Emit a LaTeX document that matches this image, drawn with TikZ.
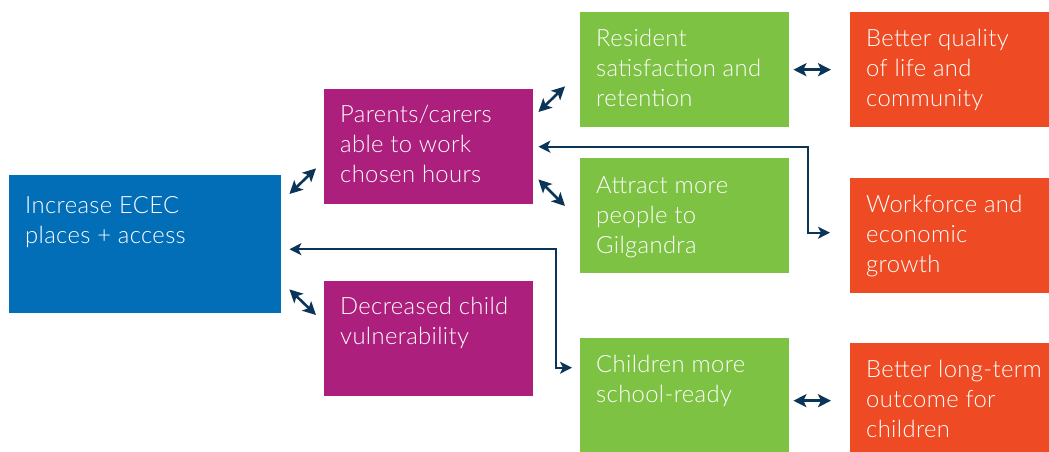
\documentclass[tikz,border=0pt]{standalone}
\usepackage{fontspec}
\setmainfont{Lato}[UprightFont=* Light, LetterSpace=1.5]
\usetikzlibrary{arrows.meta,calc}
\definecolor{ecblue}{HTML}{016EB7}
\definecolor{ecpurple}{HTML}{AD1F7C}
\definecolor{ecgreen}{HTML}{7DC243}
\definecolor{ecorange}{HTML}{EE4B24}
\definecolor{ecnavy}{HTML}{0B3558}
% box text: width, height, top padding, lines
\newcommand\celltext[4]{\parbox[t][#2][t]{#1}{\raggedright\leftskip=16pt\parindent=0pt\vspace*{#3}#4}}
\begin{document}
\begin{tikzpicture}[x=1pt,y=-1pt,
  box/.style={anchor=north west, inner sep=0pt, text=white,
    font=\fontsize{23.8}{30}\selectfont},
  tip/.tip={Stealth[length=13pt,width=13pt,inset=3pt]},
  link/.style={draw=ecnavy, line width=2.6pt, tip-tip},
  etip/.tip={Stealth[length=12pt,width=12pt,inset=3pt]},
  elbow/.style={draw=ecnavy, line width=1.8pt, etip-etip},
]
\useasboundingbox (0,0) rectangle (1049,452);

% boxes
\node[box, fill=ecblue]   (inc)   at (9,175)   {\celltext{272pt}{138pt}{21pt}{Increase ECEC\\places + access}};
\node[box, fill=ecpurple] (par)   at (324,89)  {\celltext{209pt}{115pt}{16pt}{Parents/carers\\able to work\\chosen hours}};
\node[box, fill=ecpurple] (vul)   at (324,281) {\celltext{209pt}{115pt}{16pt}{Decreased child\\vulnerability}};
\node[box, fill=ecgreen]  (res)   at (580,12)  {\celltext{209pt}{115pt}{17pt}{Resident\\satisfaction and\\retention}};
\node[box, fill=ecgreen]  (att)   at (580,158) {\celltext{209pt}{115pt}{18pt}{Attract more\\people to\\Gilgandra}};
\node[box, fill=ecgreen]  (ready) at (580,338) {\celltext{209pt}{115pt}{17pt}{Children more\\school-ready}};
\node[box, fill=ecorange] (qual)  at (850,12)  {\celltext{230pt}{115pt}{17pt}{Better quality\\of life and\\community}};
\node[box, fill=ecorange] (work)  at (850,178) {\celltext{230pt}{115pt}{17pt}{Workforce and\\economic\\growth}};
\node[box, fill=ecorange] (long)  at (850,343) {\celltext{230pt}{115pt}{17pt}{Better long-term\\outcome for\\children}};

% diagonal links
\draw[link] ([shift={(8,19)}]inc.north east) -- ([shift={(-8,-36)}]par.south west);
\draw[link] ([shift={(8,-24)}]inc.south east) -- ([shift={(-8,34)}]vul.north west);
\draw[link] ([shift={(5,23)}]par.north east) -- ([shift={(-15,-41)}]res.south west);
\draw[link] ([shift={(5,-25)}]par.south east) -- ([shift={(-15,48)}]att.north west);

% horizontal links
\draw[link] ([xshift=4pt]res.east) -- ([xshift=-19pt]qual.west);
\coordinate (c8) at (ready.east |- long.west);
\draw[link] ([xshift=4pt]c8) -- ([xshift=-19pt]long.west);

% elbow links
\coordinate (k1) at (808,0);
\coordinate (s5) at ([xshift=5pt]par.east);
\coordinate (t5) at ([shift={(-20,-3)}]work.west);
\draw[elbow] (s5) -- (s5 -| k1) |- (t5);

\coordinate (k2) at (556,0);
\coordinate (s6) at ([shift={(8,5)}]inc.east);
\coordinate (t6) at ([shift={(-8,-28)}]ready.west);
\draw[elbow] (s6) -- (s6 -| k2) |- (t6);
\end{tikzpicture}
\end{document}
